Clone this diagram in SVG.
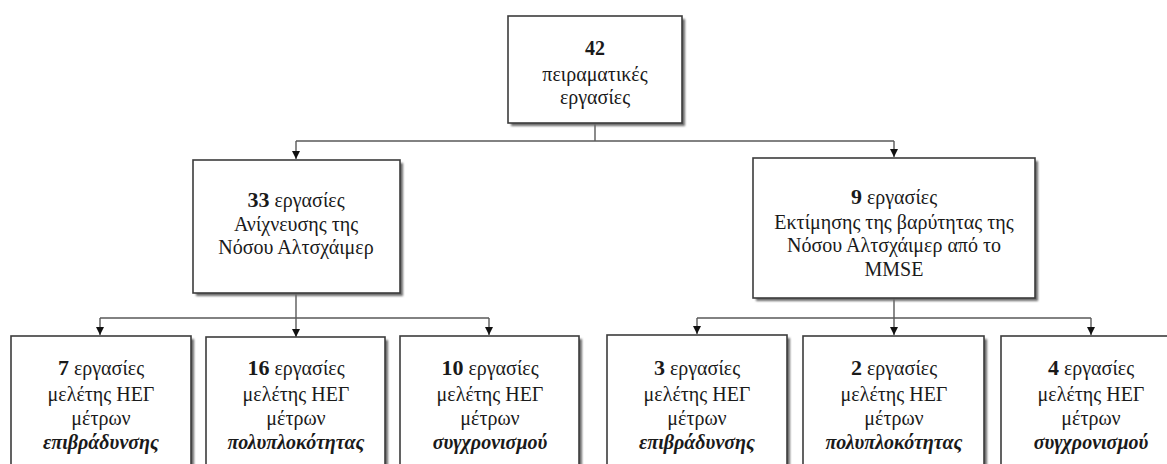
<svg xmlns="http://www.w3.org/2000/svg" width="1167" height="464" viewBox="0 0 1167 464" font-family="'Liberation Serif', 'Times New Roman', 'DejaVu Serif', serif">
  <defs>
    <marker id="arrow" viewBox="0 0 8 8" refX="8" refY="4" markerWidth="8" markerHeight="8" markerUnits="userSpaceOnUse" orient="auto">
      <path d="M0,0 L8,4 L0,8 Z" fill="#111"/>
    </marker>
    <filter id="shadow" x="-10%" y="-10%" width="130%" height="130%">
      <feGaussianBlur stdDeviation="1"/>
    </filter>
  </defs>
  <style>
    .box { fill: #ffffff; stroke: #3c3c3c; stroke-width: 1.6; }
    .shade { fill: #6a6a6a; filter: url(#shadow); }
    .link { fill: none; stroke: #5a5a5a; stroke-width: 1.4; }
    text { font-family: 'Liberation Serif', 'Times New Roman', 'DejaVu Serif', serif; font-weight: 400; font-style: normal; font-size: 20px; fill: #1a1a1a; text-anchor: middle; }
    .num { font-weight: 700; }
    .key { font-weight: 700; font-style: italic; }
  </style>

  <rect width="1167" height="464" fill="#ffffff"/>

  <!-- connectors -->
  <g id="connectors">
    <path class="link" d="M595,123 V141 M296,141 H894"/>
    <path class="link" d="M296,141 V159" marker-end="url(#arrow)"/>
    <path class="link" d="M894,141 V157" marker-end="url(#arrow)"/>
    <path class="link" d="M296,293 V318 M100,318 H489"/>
    <path class="link" d="M100,318 V335" marker-end="url(#arrow)"/>
    <path class="link" d="M296,318 V337" marker-end="url(#arrow)"/>
    <path class="link" d="M489,318 V335" marker-end="url(#arrow)"/>
    <path class="link" d="M894,298 V318 M697,318 H1091"/>
    <path class="link" d="M697,318 V334" marker-end="url(#arrow)"/>
    <path class="link" d="M894,318 V335" marker-end="url(#arrow)"/>
    <path class="link" d="M1091,318 V335" marker-end="url(#arrow)"/>
  </g>

  <!-- root -->
  <g id="root">
    <rect class="shade" x="511" y="19" width="174" height="107"/>
    <rect class="box" x="508" y="16" width="174" height="107"/>
    <text x="595" y="55" class="num" font-size="22">42</text>
    <text x="595" y="81">πειραματικές</text>
    <text x="595" y="104">εργασίες</text>
  </g>

  <!-- detection branch -->
  <g id="detection">
    <rect class="shade" x="196" y="163" width="207" height="133"/>
    <rect class="box" x="193" y="160" width="207" height="133"/>
    <text x="296" y="207"><tspan class="num" font-size="22">33</tspan> εργασίες</text>
    <text x="296" y="231">Ανίχνευσης της</text>
    <text x="296" y="254">Νόσου Αλτσχάιμερ</text>
  </g>

  <!-- severity branch -->
  <g id="severity">
    <rect class="shade" x="756" y="161" width="282" height="140"/>
    <rect class="box" x="753" y="158" width="282" height="140"/>
    <text x="894" y="204"><tspan class="num" font-size="22">9</tspan> εργασίες</text>
    <text x="894" y="229">Εκτίμησης της βαρύτητας της</text>
    <text x="894" y="252">Νόσου Αλτσχάιμερ από το</text>
    <text x="894" y="276">MMSE</text>
  </g>

  <!-- detection leaves -->
  <g id="det-slowing">
    <rect class="shade" x="14" y="339" width="180" height="140"/>
    <rect class="box" x="11" y="336" width="180" height="140"/>
    <text x="101" y="375"><tspan class="num" font-size="22">7</tspan> εργασίες</text>
    <text x="101" y="401">μελέτης ΗΕΓ</text>
    <text x="101" y="425">μέτρων</text>
    <text x="101" y="449" class="key">επιβράδυνσης</text>
  </g>
  <g id="det-complexity">
    <rect class="shade" x="209" y="340" width="179" height="140"/>
    <rect class="box" x="206" y="337" width="179" height="140"/>
    <text x="296" y="375"><tspan class="num" font-size="22">16</tspan> εργασίες</text>
    <text x="296" y="401">μελέτης ΗΕΓ</text>
    <text x="296" y="425">μέτρων</text>
    <text x="296" y="449" class="key">πολυπλοκότητας</text>
  </g>
  <g id="det-sync">
    <rect class="shade" x="403" y="339" width="179" height="140"/>
    <rect class="box" x="400" y="336" width="179" height="140"/>
    <text x="490" y="375"><tspan class="num" font-size="22">10</tspan> εργασίες</text>
    <text x="490" y="401">μελέτης ΗΕΓ</text>
    <text x="490" y="425">μέτρων</text>
    <text x="490" y="449" class="key">συγχρονισμού</text>
  </g>

  <!-- severity leaves -->
  <g id="sev-slowing">
    <rect class="shade" x="610" y="338" width="180" height="140"/>
    <rect class="box" x="607" y="335" width="180" height="140"/>
    <text x="697" y="375"><tspan class="num" font-size="22">3</tspan> εργασίες</text>
    <text x="697" y="401">μελέτης ΗΕΓ</text>
    <text x="697" y="425">μέτρων</text>
    <text x="697" y="449" class="key">επιβράδυνσης</text>
  </g>
  <g id="sev-complexity">
    <rect class="shade" x="806" y="339" width="181" height="140"/>
    <rect class="box" x="803" y="336" width="181" height="140"/>
    <text x="894" y="375"><tspan class="num" font-size="22">2</tspan> εργασίες</text>
    <text x="894" y="401">μελέτης ΗΕΓ</text>
    <text x="894" y="425">μέτρων</text>
    <text x="894" y="449" class="key">πολυπλοκότητας</text>
  </g>
  <g id="sev-sync">
    <rect class="shade" x="1004" y="339" width="180" height="140"/>
    <rect class="box" x="1001" y="336" width="180" height="140"/>
    <text x="1091" y="375"><tspan class="num" font-size="22">4</tspan> εργασίες</text>
    <text x="1091" y="401">μελέτης ΗΕΓ</text>
    <text x="1091" y="425">μέτρων</text>
    <text x="1091" y="449" class="key">συγχρονισμού</text>
  </g>
</svg>
